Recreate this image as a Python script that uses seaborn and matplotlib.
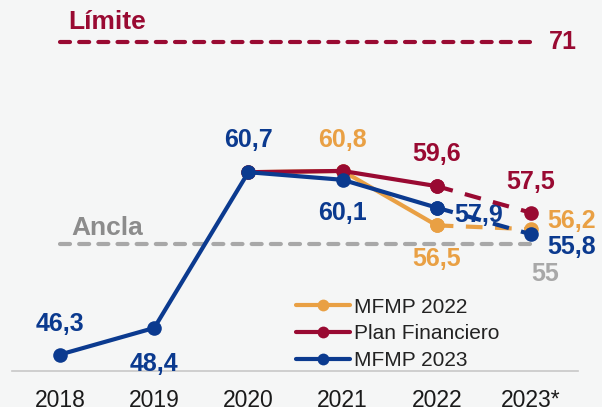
import matplotlib
matplotlib.use("Agg")
import matplotlib.pyplot as plt
import seaborn as sns
import pandas as pd
from matplotlib.lines import Line2D

years = ['2018', '2019', '2020', '2021', '2022', '2023*']
mfmp_2022 = [None, None, 60.7, 60.8, 56.5, 56.2]
plan_fin = [None, None, 60.7, 60.8, 59.6, 57.5]
mfmp_2023 = [46.3, 48.4, 60.7, 60.1, 57.9, 55.8]
limite = 71
ancla = 55

series = {'MFMP 2022': mfmp_2022, 'Plan Financiero': plan_fin, 'MFMP 2023': mfmp_2023}
colors = {'MFMP 2022': '#E9A044', 'Plan Financiero': '#990A32', 'MFMP 2023': '#0B3A8F'}
grey = '#A8A8A8'

sns.set_theme(style='white')
plt.rcParams['font.family'] = ['Liberation Sans', 'DejaVu Sans']

fig = plt.figure(figsize=(6.02, 4.07), dpi=100, facecolor='#f5f6f6')
ax = fig.add_axes([12 / 602, 36 / 407, 566 / 602, 371 / 407])
ax.set_facecolor('#f5f6f6')

pos = list(range(len(years)))

# reference lines
ax.hlines(limite, pos[0], pos[-1], color=colors['Plan Financiero'], lw=3,
          linestyles=(0, (2.4, 2.2)), capstyle='round', zorder=1)
ax.hlines(ancla, pos[0], pos[-1], color=grey, lw=3,
          linestyles=(0, (2.4, 2.2)), capstyle='round', zorder=1)

z = 3
for name, vals in series.items():
    df = pd.DataFrame({'x': pos, 'y': vals}).dropna()
    solid = df[df['x'] <= 4]
    dashed = df[df['x'] >= 4]
    sns.lineplot(data=solid, x='x', y='y', ax=ax, color=colors[name], lw=3,
                 marker='o', markersize=10.5, markeredgewidth=0, zorder=z)
    sns.lineplot(data=dashed, x='x', y='y', ax=ax, color=colors[name], lw=3,
                 marker='o', markersize=10.5, markeredgewidth=0, zorder=z)
    ax.lines[-1].set_dashes((4, 3))
    z += 1

b, r, o = colors['MFMP 2023'], colors['Plan Financiero'], colors['MFMP 2022']
fs = 18


def fmt(v):
    return f'{v:.1f}'.replace('.', ',')


def put(i, v, dx, dy, c, text=None, size=fs):
    ax.annotate(text if text else fmt(v), (pos[i], v), xytext=(dx, dy),
                textcoords='offset points', color=c, fontsize=size,
                fontweight='bold', ha='center', va='center')


put(0, mfmp_2023[0], 0, 22, b)
put(1, mfmp_2023[1], 0, -26, b)
put(2, mfmp_2023[2], 0, 23, b)
put(3, mfmp_2022[3], 0, 22, o)
put(3, mfmp_2023[3], 0, -24, b)
put(4, plan_fin[4], 0, 23, r)
put(4, mfmp_2023[4], 30, -5, b)
put(4, mfmp_2022[4], 0, -24, o)
put(5, plan_fin[5], 0, 22, r)
put(5, mfmp_2022[5], 29, 6, o)
put(5, mfmp_2023[5], 29, -9, b)

put(5, ancla, 10, -21, grey, str(ancla))
put(5, limite, 23, 0, r, str(limite))
put(0, limite, 34, 14, r, 'Límite', 19)
put(0, ancla, 34, 12, '#8C8C8C', 'Ancla', 19)

handles = [Line2D([0], [0], color=colors[n], lw=3, marker='o', markersize=8.5,
                  markeredgewidth=0) for n in series]
ax.legend(handles, list(series), loc='upper left', bbox_to_anchor=(0.502, 0.198),
          frameon=False, fontsize=15, handlelength=2.6, handletextpad=0.2,
          labelspacing=0.38, borderaxespad=0, borderpad=0, labelcolor='#222222')

ax.set_xlim(-0.51, 5.5)
ax.set_ylim(45, 74.3)
ax.set_xticks(pos)
ax.set_xticklabels(years, fontsize=16.5, color='#1a1a1a')
ax.tick_params(axis='x', length=0, pad=13)
ax.set_yticks([])
ax.set_xlabel('')
ax.set_ylabel('')
for s in ['top', 'left', 'right']:
    ax.spines[s].set_visible(False)
ax.spines['bottom'].set_color('#c8c8c8')
ax.spines['bottom'].set_linewidth(1.2)

fig.savefig('out.png', dpi=100, facecolor=fig.get_facecolor())
